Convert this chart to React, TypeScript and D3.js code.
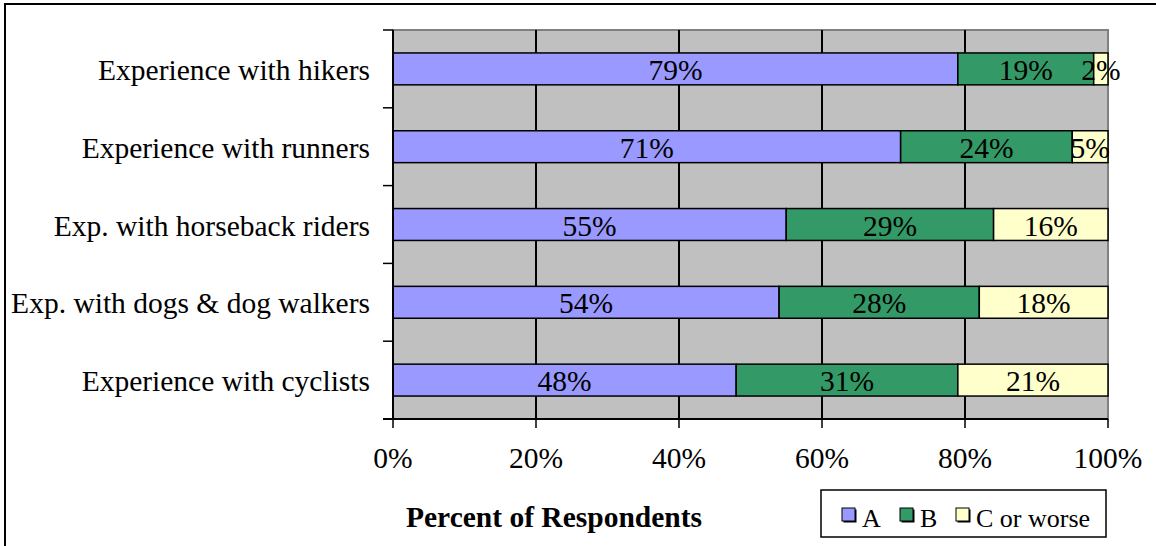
import React from 'react';
import * as d3 from 'd3';

const categories = [
  'Experience with hikers',
  'Experience with runners',
  'Exp. with horseback riders',
  'Exp. with dogs & dog walkers',
  'Experience with cyclists',
];
const seriesNames = ['A', 'B', 'C or worse'];
const seriesA = [79, 71, 55, 54, 48];
const seriesB = [19, 24, 29, 28, 31];
const seriesC = [2, 5, 16, 18, 21];
const xTicks = [0, 20, 40, 60, 80, 100];
const colors = ['#9999ff', '#339966', '#ffffcc'];

const W = 1156;
const H = 546;
const plot = { left: 393, right: 1108, top: 30, bottom: 419 };
const FONT = '"Liberation Serif", "Times New Roman", serif';
const FS = 29.5;

export default function App() {
  const x = d3.scaleLinear().domain([0, 100]).range([plot.left, plot.right]);
  const y = d3
    .scaleBand()
    .domain(categories)
    .range([plot.top, plot.bottom])
    .paddingInner(0.59)
    .paddingOuter(0.295);
  const step = y.step();

  const rows = categories.map((c, i) => ({ cat: c, A: seriesA[i], B: seriesB[i], C: seriesC[i] }));
  const stacked = d3.stack<any>().keys(['A', 'B', 'C'])(rows);

  return (
    <svg
      width={W}
      height={H}
      style={{ position: 'absolute', left: 0, top: 0, display: 'block', background: '#fff' }}
      fontFamily={FONT}
    >
      {/* outer frame */}
      <rect x={5} y={4} width={W + 20} height={H + 20} fill="#fff" stroke="#000" strokeWidth={2} />

      {/* plot background */}
      <rect
        x={plot.left}
        y={plot.top}
        width={plot.right - plot.left}
        height={plot.bottom - plot.top}
        fill="#c0c0c0"
        stroke="#808080"
        strokeWidth={2}
      />

      {/* gridlines */}
      {xTicks.slice(1, -1).map((t) => (
        <line key={t} x1={x(t)} x2={x(t)} y1={plot.top} y2={plot.bottom} stroke="#000" strokeWidth={2} />
      ))}

      {/* bars */}
      {stacked.map((s, si) =>
        s.map((d, i) => {
          const cat = categories[i];
          const y0 = y(cat) as number;
          const x0 = x(d[0]);
          const x1 = x(d[1]);
          const val = [seriesA, seriesB, seriesC][si][i];
          return (
            <g key={`${si}-${i}`}>
              <rect x={x0} y={y0} width={x1 - x0} height={y.bandwidth()} fill={colors[si]} stroke="#000" strokeWidth={1.5} />
              <text
                x={(x0 + x1) / 2}
                y={y0 + y.bandwidth() / 2 + 11}
                textAnchor="middle"
                fontSize={FS}
                fill="#000"
              >
                {val}%
              </text>
            </g>
          );
        })
      )}

      {/* left axis */}
      <line x1={plot.left} x2={plot.left} y1={plot.top} y2={plot.bottom} stroke="#000" strokeWidth={2} />
      {d3.range(categories.length + 1).map((k) => (
        <line
          key={k}
          x1={plot.left - 10}
          x2={plot.left}
          y1={plot.top + k * step}
          y2={plot.top + k * step}
          stroke="#000"
          strokeWidth={1.5}
        />
      ))}
      {categories.map((c) => (
        <text
          key={c}
          x={370}
          y={(y(c) as number) + y.bandwidth() / 2 + 11}
          textAnchor="end"
          fontSize={FS}
          fill="#000"
        >
          {c}
        </text>
      ))}

      {/* bottom axis */}
      <line x1={plot.left - 10} x2={plot.right} y1={plot.bottom} y2={plot.bottom} stroke="#000" strokeWidth={2} />
      {xTicks.map((t) => (
        <g key={t}>
          <line x1={x(t)} x2={x(t)} y1={plot.bottom} y2={plot.bottom + 9} stroke="#000" strokeWidth={1.5} />
          <text x={x(t)} y={468} textAnchor="middle" fontSize={FS} fill="#000">
            {t}%
          </text>
        </g>
      ))}

      {/* axis title */}
      <text x={554} y={527} textAnchor="middle" fontSize={FS} fontWeight="bold" fill="#000">
        Percent of Respondents
      </text>

      {/* legend */}
      <rect x={821} y={490} width={285} height={47} fill="#fff" stroke="#000" strokeWidth={1.5} />
      {seriesNames.map((n, i) => {
        const lx = [842, 900, 956][i];
        return (
          <g key={n}>
            <rect x={lx + 1.5} y={509.5} width={13} height={13} fill="#000" />
            <rect x={lx} y={508} width={13} height={13} fill={colors[i]} stroke="#000" strokeWidth={1} />
            <text x={lx + 20} y={527} fontSize={26} fill="#000">
              {n}
            </text>
          </g>
        );
      })}
    </svg>
  );
}
